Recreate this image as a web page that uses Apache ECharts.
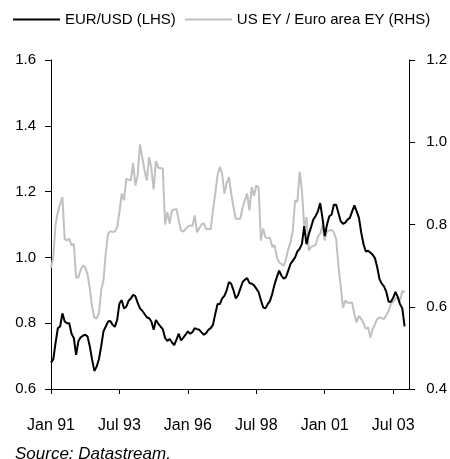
<!DOCTYPE html>
<html>
<head>
<meta charset="utf-8">
<script src="https://cdn.jsdelivr.net/npm/echarts@6/dist/echarts.min.js"></script>
<style>
  html, body { margin: 0; padding: 0; background: #fff; }
  #chart { width: 450px; height: 459px; }
</style>
</head>
<body>
<div id="chart"></div>
<script>
// month labels Jan 91 .. Feb 04 (axis runs a little past the last point)
var monthNames = ['Jan', 'Feb', 'Mar', 'Apr', 'May', 'Jun', 'Jul', 'Aug', 'Sep', 'Oct', 'Nov', 'Dec']
var months = []
for (var i = 0; i < 158; i++) {
  var yr = (91 + Math.floor(i / 12)) % 100
  months.push(monthNames[i % 12] + ' ' + (yr < 10 ? '0' + yr : '' + yr))
}

// EUR/USD, left axis
var eurUsd = [
  0.68, 0.69, 0.74, 0.785, 0.79, 0.83, 0.805, 0.80, 0.80, 0.768,
  0.755, 0.704, 0.745, 0.757, 0.762, 0.765, 0.76, 0.73, 0.69, 0.655,
  0.668, 0.69, 0.73, 0.775, 0.79, 0.805, 0.807, 0.795, 0.789, 0.81,
  0.86, 0.87, 0.845, 0.85, 0.868, 0.875, 0.886, 0.882, 0.862, 0.845,
  0.838, 0.828, 0.818, 0.815, 0.805, 0.78, 0.81, 0.799, 0.79, 0.782,
  0.755, 0.746, 0.752, 0.742, 0.733, 0.75, 0.768, 0.748, 0.756, 0.765,
  0.775, 0.768, 0.773, 0.785, 0.782, 0.78, 0.772, 0.765, 0.77, 0.78,
  0.785, 0.795, 0.828, 0.858, 0.858, 0.875, 0.883, 0.90, 0.925, 0.92,
  0.90, 0.875, 0.885, 0.905, 0.925, 0.932, 0.937, 0.922, 0.92, 0.915,
  0.905, 0.895, 0.87, 0.848, 0.845, 0.858, 0.868, 0.89, 0.918, 0.94,
  0.96, 0.945, 0.935, 0.94, 0.96, 0.98, 0.99, 1.0, 1.018, 1.026,
  1.041, 1.095, 1.04, 1.07, 1.092, 1.115, 1.126, 1.14, 1.165, 1.12,
  1.065, 1.10, 1.125, 1.13, 1.16, 1.16, 1.135, 1.11, 1.102, 1.106,
  1.115, 1.12, 1.14, 1.158, 1.14, 1.12, 1.075, 1.04, 1.018, 1.02,
  1.015, 1.008, 0.998, 0.97, 0.934, 0.92, 0.912, 0.895, 0.865, 0.865,
  0.877, 0.895, 0.88, 0.858, 0.845, 0.79
]

// US earnings yield / euro area earnings yield, right axis
var eyRatio = [
  0.695, 0.72, 0.80, 0.83, 0.85, 0.867, 0.765, 0.761, 0.765, 0.749,
  0.753, 0.671, 0.671, 0.69, 0.70, 0.696, 0.68, 0.645, 0.60, 0.574,
  0.572, 0.584, 0.64, 0.665, 0.73, 0.777, 0.784, 0.782, 0.783, 0.793,
  0.83, 0.875, 0.859, 0.911, 0.909, 0.907, 0.95, 0.895, 0.92, 0.995,
  0.964, 0.932, 0.907, 0.964, 0.936, 0.885, 0.954, 0.938, 0.937, 0.936,
  0.80, 0.83, 0.802, 0.834, 0.836, 0.838, 0.81, 0.785, 0.783, 0.789,
  0.795, 0.798, 0.796, 0.822, 0.781, 0.791, 0.80, 0.803, 0.789, 0.789,
  0.789, 0.834, 0.875, 0.92, 0.94, 0.924, 0.875, 0.90, 0.915, 0.875,
  0.842, 0.814, 0.814, 0.814, 0.842, 0.859, 0.875, 0.834, 0.891, 0.87,
  0.895, 0.89, 0.761, 0.79, 0.769, 0.767, 0.767, 0.745, 0.75, 0.72,
  0.708, 0.704, 0.70, 0.716, 0.74, 0.757, 0.785, 0.859, 0.855, 0.928,
  0.883, 0.793, 0.818, 0.737, 0.745, 0.748, 0.75, 0.77, 0.777, 0.798,
  0.761, 0.785, 0.785, 0.787, 0.78, 0.765, 0.70, 0.65, 0.598, 0.615,
  0.61, 0.61, 0.61, 0.582, 0.562, 0.578, 0.57, 0.56, 0.546, 0.55,
  0.525, 0.545, 0.558, 0.57, 0.574, 0.572, 0.57, 0.58, 0.59, 0.607,
  0.612, 0.62, 0.623, 0.615, 0.639, 0.635
]

var chart = echarts.init(document.getElementById('chart'))
var font = 'Liberation Sans, Arial, sans-serif'
var showEvery30 = function (idx) { return idx % 30 === 0 }

chart.setOption({
  animation: false,
  textStyle: { fontFamily: font, color: '#000' },
  title: {
    text: 'Source: Datastream.',
    left: 10,
    top: 441,
    textStyle: { fontFamily: font, fontSize: 17, fontStyle: 'italic', fontWeight: 'normal', color: '#000' }
  },
  legend: {
    left: 13,
    top: 12,
    width: 437,
    padding: 0,
    icon: 'rect',
    itemWidth: 47,
    itemHeight: 2,
    itemGap: 9,
    textStyle: { fontFamily: font, fontSize: 15, color: '#000' },
    data: ['EUR/USD (LHS)', 'US EY / Euro area EY (RHS)']
  },
  grid: { left: 51, right: 38, top: 60, bottom: 70 },
  xAxis: {
    type: 'category',
    data: months,
    boundaryGap: false,
    axisLine: { lineStyle: { color: '#000', width: 1 } },
    axisTick: { interval: showEvery30, length: 5, lineStyle: { color: '#000' } },
    axisLabel: { interval: showEvery30, margin: 29, fontSize: 16, color: '#000', fontFamily: font },
    splitLine: { show: false }
  },
  yAxis: [
    {
      type: 'value',
      min: 0.6,
      max: 1.6,
      interval: 0.2,
      axisLine: { show: true, lineStyle: { color: '#000' } },
      axisTick: { show: true, length: 6, lineStyle: { color: '#000' } },
      axisLabel: { margin: 15, fontSize: 15, color: '#000', fontFamily: font, formatter: function (v) { return v.toFixed(1) } },
      splitLine: { show: false }
    },
    {
      type: 'value',
      position: 'right',
      min: 0.4,
      max: 1.2,
      interval: 0.2,
      axisLine: { show: true, lineStyle: { color: '#000' } },
      axisTick: { show: true, length: 6, lineStyle: { color: '#000' } },
      axisLabel: { margin: 17, fontSize: 15, color: '#000', fontFamily: font, formatter: function (v) { return v.toFixed(1) } },
      splitLine: { show: false }
    }
  ],
  series: [
    {
      name: 'EUR/USD (LHS)',
      type: 'line',
      yAxisIndex: 0,
      data: eurUsd,
      symbol: 'none',
      z: 3,
      lineStyle: { color: '#000', width: 2 },
      itemStyle: { color: '#000' }
    },
    {
      name: 'US EY / Euro area EY (RHS)',
      type: 'line',
      yAxisIndex: 1,
      data: eyRatio,
      symbol: 'none',
      z: 2,
      lineStyle: { color: '#c0c0c0', width: 2 },
      itemStyle: { color: '#c0c0c0' }
    }
  ]
})
</script>
</body>
</html>
